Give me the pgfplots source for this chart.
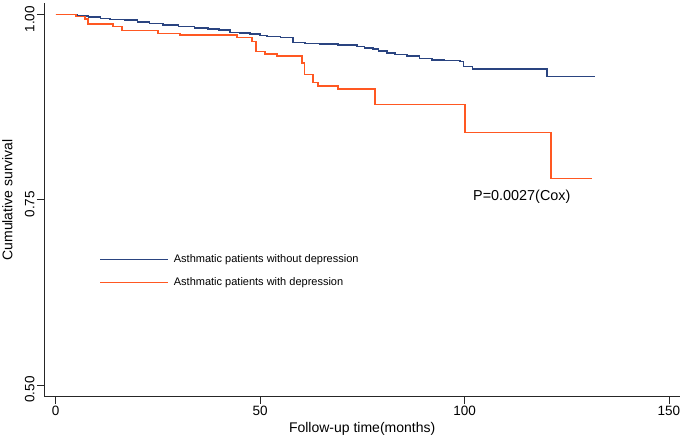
\documentclass[border=0pt]{standalone}
\usepackage{fontspec}
\setmainfont{Liberation Sans}
\usepackage{pgfplots}
\pgfplotsset{compat=1.18}
\definecolor{kmblue}{RGB}{42,68,128}
\definecolor{kmorange}{RGB}{255,88,34}
\begin{document}
\begin{tikzpicture}
\begin{axis}[
  scale only axis,
  width=635.7pt, height=393.7pt,
  xmin=-2.79, xmax=152.7,
  ymin=0.4842, ymax=1.0158,
  axis x line*=bottom, axis y line*=left,
  axis line style={black!85, line width=0.8pt},
  every tick/.style={black!85, line width=0.8pt},
  tick align=outside,
  major tick length=7.5pt,
  xtick={0,50,100,150},
  ytick={0.5,0.75,1},
  yticklabels={0.50,0.75,1.00},
  /pgf/number format/assume math mode=true,
  ticklabel style={font=\fontsize{13.5}{16}\selectfont},
  yticklabel style={rotate=90, anchor=south, inner sep=2pt, xshift=-4.5pt},
  xticklabel style={inner sep=2pt},
  xlabel={Follow-up time(months)},
  ylabel={Cumulative survival},
  label style={font=\fontsize{14}{16}\selectfont},
  xlabel style={at={(axis description cs:0.5,-0.082)}, anchor=center},
  ylabel style={at={(axis description cs:-0.0579,0.5)}, anchor=center},
  legend style={at={(axis cs:10.66,0.677)}, anchor=north west, draw=none, fill=none,
    inner sep=0pt, row sep=12.8pt,
    font=\fontsize{11}{12}\selectfont,
    nodes={text height=8pt, text depth=2.5pt, inner sep=0pt, inner xsep=5.5pt}},
  legend cell align=left,
  legend image code/.code={\draw[#1] (0pt,0pt) -- (67.4pt,0pt);},
  clip=false,
]
\addplot[const plot, kmblue, line width=1.5pt] coordinates {
(0,1.000) (5.2,0.9985) (8,0.997) (11,0.995) (13.3,0.9938) (17,0.993) (20,0.990)
(23,0.988) (26.2,0.9861) (30,0.984) (34,0.982) (37.2,0.9807) (40,0.979)
(42.6,0.9762) (45,0.975) (47.5,0.9739) (50,0.972) (51.7,0.9703) (55,0.969)
(58.0,0.9622) (61,0.961) (64.6,0.9604) (69,0.959) (73.7,0.9568) (75.5,0.955)
(77.6,0.9537) (79,0.951) (81.0,0.9483) (83,0.946) (85.9,0.9442) (89,0.941)
(92.0,0.9388) (95,0.938) (98.9,0.9365) (99.8,0.9298) (102.0,0.9267)
(120.2,0.9168) (131.9,0.9168)
};
\addlegendentry{Asthmatic patients without depression}
\addplot[const plot, kmorange, line width=1.5pt] coordinates {
(0,1.000) (5.0,0.9973) (7.2,0.9942) (7.9,0.9874) (14.0,0.9838) (16.2,0.9784)
(25.0,0.9743) (30.4,0.9726) (44.3,0.969) (48.0,0.9635) (49.0,0.950)
(51.2,0.9469) (54.1,0.9442) (60.2,0.9348) (60.9,0.9195) (62.9,0.9085)
(64.1,0.9037) (69.0,0.900) (78.1,0.8787) (100.1,0.8407) (121.1,0.779)
(131.1,0.779)
};
\addlegendentry{Asthmatic patients with depression}
\node[font=\fontsize{14.4}{16}\selectfont] at (axis cs:114.0,0.7538) {P=0.0027(Cox)};
\end{axis}
\pgfresetboundingbox
\useasboundingbox (-44.3pt,-44.3pt) rectangle (640.7pt,396.7pt);
\end{tikzpicture}
\end{document}
